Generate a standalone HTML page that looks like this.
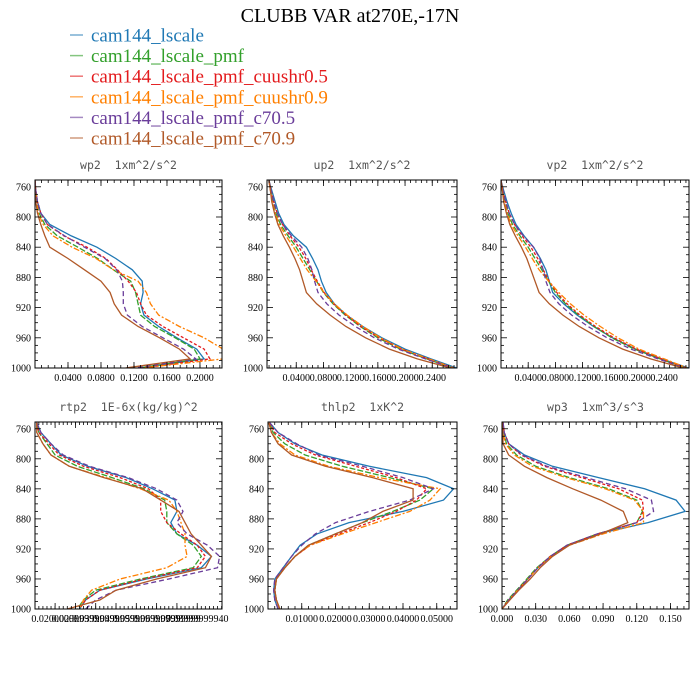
<!DOCTYPE html>
<html><head><meta charset="utf-8"><style>
html,body{margin:0;padding:0;background:#fff;width:700px;height:700px;overflow:hidden}
svg text{font-family:"Liberation Serif",serif}
svg text.pt{font-family:"DejaVu Sans Mono","Liberation Mono",monospace;white-space:pre}
</style></head><body>
<svg id="fig" width="700" height="700" viewBox="0 0 700 700" xmlns="http://www.w3.org/2000/svg">
<text x="350" y="22" text-anchor="middle" font-size="20">CLUBB VAR at270E,-17N</text>
<g id="legend"></g>
<g id="panels"></g>
</svg>
<script>
const seriesNames=["cam144_lscale","cam144_lscale_pmf","cam144_lscale_pmf_cuushr0.5","cam144_lscale_pmf_cuushr0.9","cam144_lscale_pmf_c70.5","cam144_lscale_pmf_c70.9"];
const colors=["#1f78b4","#33a02c","#e31a1c","#ff7f00","#6a3d9a","#b15928"];
const dashes=["","6,2","3,2","6,2,2,2","5,3",""];
const levels=[752,765,780,795,810,825,840,855,870,885,900,915,930,945,960,975,988,1000];
const yTicks=[760,800,840,880,920,960,1000];

const wp2=[
[0,0.001,0.003,0.007,0.018,0.044,0.075,0.098,0.118,0.130,0.131,0.128,0.132,0.150,0.172,0.196,0.205,0.127],
[0,0.001,0.002,0.005,0.012,0.027,0.052,0.076,0.095,0.116,0.122,0.125,0.128,0.145,0.170,0.193,0.200,0.125],
[0,0.001,0.003,0.007,0.015,0.035,0.063,0.086,0.100,0.113,0.123,0.128,0.135,0.155,0.180,0.205,0.212,0.130],
[0,0.001,0.002,0.004,0.010,0.022,0.045,0.074,0.095,0.125,0.135,0.140,0.150,0.175,0.205,0.228,0.228,0.130],
[0,0.001,0.003,0.007,0.015,0.036,0.060,0.085,0.099,0.106,0.107,0.107,0.112,0.130,0.155,0.180,0.195,0.120],
[0,0,0.001,0.003,0.007,0.012,0.018,0.040,0.060,0.080,0.091,0.096,0.105,0.125,0.151,0.175,0.188,0.110]];
const up2=[
[0,0.004,0.009,0.014,0.022,0.036,0.055,0.064,0.072,0.077,0.084,0.096,0.114,0.138,0.166,0.200,0.238,0.276],
[0,0.003,0.006,0.010,0.017,0.028,0.040,0.050,0.060,0.070,0.080,0.094,0.112,0.134,0.160,0.193,0.232,0.270],
[0,0.003,0.007,0.012,0.020,0.031,0.044,0.054,0.062,0.071,0.081,0.095,0.113,0.135,0.162,0.195,0.234,0.272],
[0,0.002,0.005,0.009,0.015,0.025,0.036,0.046,0.056,0.069,0.081,0.096,0.115,0.138,0.164,0.196,0.235,0.272],
[0,0.003,0.007,0.012,0.020,0.033,0.048,0.057,0.063,0.067,0.072,0.085,0.103,0.127,0.155,0.190,0.230,0.270],
[0,0.002,0.004,0.008,0.013,0.021,0.030,0.038,0.045,0.050,0.055,0.070,0.090,0.113,0.142,0.177,0.218,0.267]];
const vp2=[
[0,0.004,0.009,0.015,0.022,0.034,0.048,0.058,0.066,0.071,0.076,0.092,0.112,0.136,0.164,0.198,0.236,0.276],
[0,0.003,0.006,0.010,0.017,0.028,0.040,0.050,0.060,0.070,0.080,0.095,0.114,0.137,0.163,0.196,0.234,0.272],
[0,0.003,0.007,0.012,0.020,0.031,0.044,0.054,0.062,0.071,0.082,0.097,0.116,0.139,0.166,0.199,0.236,0.273],
[0,0.002,0.005,0.009,0.015,0.025,0.036,0.046,0.056,0.070,0.085,0.102,0.122,0.146,0.172,0.203,0.240,0.274],
[0,0.003,0.007,0.012,0.020,0.033,0.048,0.057,0.062,0.066,0.072,0.085,0.104,0.128,0.156,0.191,0.231,0.270],
[0,0.002,0.004,0.008,0.013,0.021,0.030,0.038,0.044,0.050,0.056,0.071,0.091,0.115,0.144,0.179,0.220,0.268]];
const rtp2=[
[0.011,0.013,0.018,0.023,0.036,0.055,0.068,0.079,0.080,0.077,0.080,0.090,0.097,0.092,0.065,0.042,0.035,0.032],
[0.011,0.012,0.016,0.020,0.031,0.048,0.064,0.074,0.075,0.075,0.080,0.088,0.092,0.088,0.062,0.040,0.034,0.031],
[0.011,0.012,0.017,0.022,0.034,0.052,0.066,0.072,0.072,0.075,0.082,0.090,0.094,0.090,0.064,0.042,0.035,0.032],
[0.011,0.011,0.014,0.018,0.027,0.045,0.062,0.076,0.080,0.082,0.084,0.084,0.085,0.075,0.052,0.038,0.034,0.032],
[0.011,0.013,0.018,0.024,0.037,0.056,0.070,0.080,0.083,0.080,0.085,0.095,0.101,0.100,0.076,0.050,0.040,0.035],
[0.011,0.011,0.014,0.018,0.027,0.044,0.063,0.072,0.081,0.084,0.087,0.092,0.097,0.094,0.070,0.050,0.042,0.026]];
const thlp2=[
[0.0005,0.003,0.008,0.016,0.030,0.047,0.055,0.052,0.040,0.024,0.0145,0.0095,0.007,0.0045,0.002,0.0017,0.002,0.003],
[0.0005,0.0015,0.005,0.011,0.022,0.036,0.049,0.045,0.037,0.028,0.020,0.012,0.008,0.005,0.0025,0.002,0.0025,0.0035],
[0.0005,0.002,0.007,0.014,0.026,0.038,0.047,0.044,0.038,0.030,0.021,0.0125,0.008,0.005,0.0025,0.002,0.0025,0.0035],
[0.0003,0.001,0.0035,0.008,0.018,0.033,0.051,0.048,0.042,0.032,0.022,0.0125,0.008,0.005,0.0025,0.002,0.0025,0.0035],
[0.0005,0.003,0.0085,0.015,0.028,0.040,0.049,0.042,0.030,0.020,0.014,0.010,0.007,0.0045,0.002,0.0017,0.002,0.003],
[0.0003,0.001,0.003,0.007,0.017,0.031,0.043,0.043,0.034,0.028,0.020,0.012,0.008,0.005,0.0025,0.002,0.0025,0.0035]];
const wp3=[
[0.001,0.002,0.006,0.020,0.045,0.086,0.127,0.155,0.163,0.130,0.085,0.058,0.043,0.032,0.023,0.014,0.006,0],
[0.0005,0.0015,0.004,0.013,0.030,0.060,0.095,0.120,0.125,0.120,0.085,0.058,0.043,0.031,0.022,0.013,0.005,0],
[0.001,0.002,0.006,0.017,0.038,0.071,0.104,0.125,0.126,0.120,0.085,0.058,0.043,0.032,0.023,0.014,0.006,0],
[0.0005,0.001,0.003,0.011,0.027,0.057,0.092,0.118,0.126,0.126,0.090,0.060,0.044,0.032,0.023,0.014,0.006,0],
[0.001,0.002,0.006,0.018,0.040,0.075,0.110,0.133,0.135,0.120,0.085,0.058,0.043,0.032,0.023,0.014,0.006,0],
[0.0003,0.0005,0.001,0.006,0.020,0.040,0.063,0.088,0.108,0.112,0.088,0.060,0.045,0.034,0.025,0.015,0.007,0]];

const wp2Ticks=[0.04,0.08,0.12,0.16,0.2], wp2Labels=["0.0400","0.0800","0.1200","0.1600","0.2000"];
const up2Ticks=[0.04,0.08,0.12,0.16,0.2,0.24], up2Labels=["0.0400","0.0800","0.1200","0.1600","0.2000","0.2400"];
const rtp2Ticks=[0.02,0.03,0.04,0.05,0.06,0.07,0.08,0.09], rtp2Labels=["0.02000000","0.02999999","0.03999999","0.04999999","0.05999999","0.06999999","0.07999999","0.08999999940"];
const thlp2Ticks=[0.01,0.02,0.03,0.04,0.05], thlp2Labels=["0.01000","0.02000","0.03000","0.04000","0.05000"];
const wp3Ticks=[0,0.03,0.06,0.09,0.12,0.15], wp3Labels=["0.000","0.030","0.060","0.090","0.120","0.150"];

const NS="http://www.w3.org/2000/svg";
function mk(tag,attrs,parent){const e=document.createElementNS(NS,tag);for(const k in attrs)e.setAttribute(k,attrs[k]);parent.appendChild(e);return e;}

const leg=document.getElementById('legend');
seriesNames.forEach((n,i)=>{
  const y=35+i*20.6;
  const g=mk('g',{},leg);
  
  
  mk('line',{x1:70,x2:83,y1:y,y2:y,stroke:colors[i],'stroke-width':1.5,opacity:0.6},g);
  const t=mk('text',{x:91,y:y+6.5,'font-size':19,fill:colors[i]},g);
  t.textContent=n;
});

const panels=[
 {name:'wp2',title:'wp2  1xm^2/s^2',x0:35,x1:222,y0:180,y1:368,min:0,max:0.2267,data:wp2,ticks:wp2Ticks,labels:wp2Labels,minor:0.008},
 {name:'up2',title:'up2  1xm^2/s^2',x0:267,x1:457,y0:180,y1:368,min:-0.003,max:0.2764,data:up2,ticks:up2Ticks,labels:up2Labels,minor:0.008},
 {name:'vp2',title:'vp2  1xm^2/s^2',x0:501,x1:689,y0:180,y1:368,min:0,max:0.2765,data:vp2,ticks:up2Ticks,labels:up2Labels,minor:0.008},
 {name:'rtp2',title:'rtp2  1E-6x(kg/kg)^2',x0:35,x1:222,y0:422,y1:609,min:0.0101,max:0.1022,data:rtp2,ticks:rtp2Ticks,labels:rtp2Labels,minor:0.002},
 {name:'thlp2',title:'thlp2  1xK^2',x0:268,x1:457,y0:422,y1:609,min:0,max:0.056,data:thlp2,ticks:thlp2Ticks,labels:thlp2Labels,minor:0.002},
 {name:'wp3',title:'wp3  1xm^3/s^3',x0:502,x1:689,y0:422,y1:609,min:0,max:0.1665,data:wp3,ticks:wp3Ticks,labels:wp3Labels,minor:0.006}
];
const root=document.getElementById('panels');
panels.forEach(p=>{
  const g=mk('g',{},root);
  
  
  const X=v=>p.x0+(v-p.min)/(p.max-p.min)*(p.x1-p.x0);
  const pTop=751, pBot=1000;
  const Y=v=>p.y0+(v-pTop)/(pBot-pTop)*(p.y1-p.y0);
  const t=mk('text',{x:(p.x0+p.x1)/2,y:p.y0-11,'text-anchor':'middle','font-size':11.5,fill:'#555','class':'pt'},g);
  t.textContent=p.title;
  
  
  const cid='clip-'+p.name;
  const cp=mk('clipPath',{id:cid},g);
  mk('rect',{x:p.x0,y:p.y0,width:p.x1-p.x0,height:p.y1-p.y0},cp);
  const sg=mk('g',{'clip-path':'url(#'+cid+')'},g);
  p.data.forEach((s,i)=>{
    const d=s.map((v,k)=>(k?'L':'M')+X(v).toFixed(1)+','+Y(levels[k]).toFixed(1)).join(' ');
    const path=mk('path',{d:d,fill:'none',stroke:colors[i],'stroke-width':1.3},sg);
    if(dashes[i])path.setAttribute('stroke-dasharray',dashes[i]);
    
    
  });
  const tg=mk('g',{stroke:'#000','stroke-width':0.8},g);
  for(let v=760;v<=1000;v+=10){
    const y=Y(v), L=(v%40===0)?6:3;
    mk('line',{x1:p.x0,x2:p.x0+L,y1:y,y2:y},tg);
    mk('line',{x1:p.x1,x2:p.x1-L,y1:y,y2:y},tg);
  }
  const start=Math.ceil(p.min/p.minor-1e-6);
  for(let k=start;k*p.minor<=p.max+1e-9;k++){
    const x=X(k*p.minor);
    mk('line',{x1:x,x2:x,y1:p.y0,y2:p.y0+3},tg);
    mk('line',{x1:x,x2:x,y1:p.y1,y2:p.y1-3},tg);
  }
  p.ticks.forEach(v=>{
    const x=X(v);
    mk('line',{x1:x,x2:x,y1:p.y0,y2:p.y0+6},tg);
    mk('line',{x1:x,x2:x,y1:p.y1,y2:p.y1-6},tg);
  });
  mk('rect',{x:p.x0,y:p.y0,width:p.x1-p.x0,height:p.y1-p.y0,fill:'none',stroke:'#000','stroke-width':1},g);
  const xa=mk('g',{},g);
  
  
  p.ticks.forEach((v,i)=>{
    const tt=mk('text',{x:X(v),y:p.y1+13,'text-anchor':'middle','font-size':10},xa);
    tt.textContent=p.labels[i];
  });
  const ya=mk('g',{},g);
  
  
  yTicks.forEach(v=>{
    const tt=mk('text',{x:p.x0-4,y:Y(v)+3.5,'text-anchor':'end','font-size':10},ya);
    tt.textContent=v;
  });
});
</script>
</body></html>
